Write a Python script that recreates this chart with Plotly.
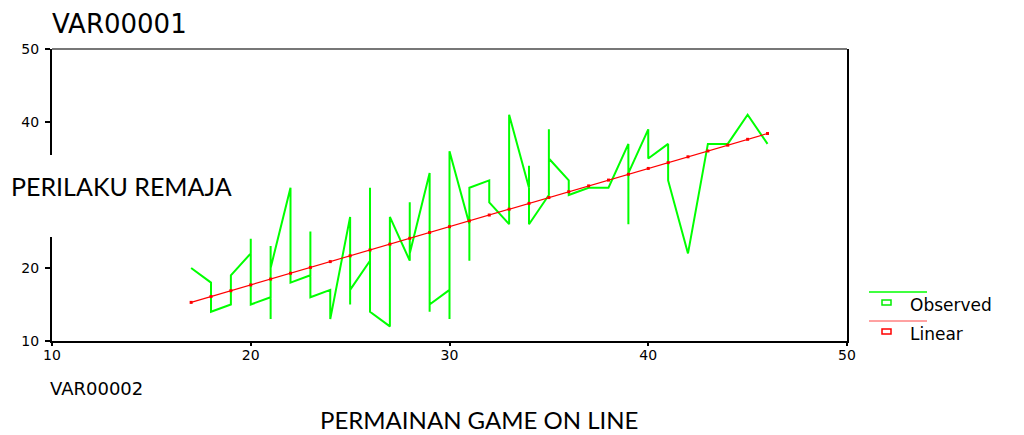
import numpy as np
import plotly.graph_objects as go

# Observed data (in plotting order, SPSS curve-fit style)
x_obs = [17, 18, 18, 19, 19, 20, 20, 20, 21, 21, 21, 21, 22, 22, 23, 23, 23, 24, 24,
         25, 25, 25, 26, 26, 26, 27, 27, 28, 28, 28, 29, 29, 29, 30, 30, 30, 31, 31, 31,
         32, 32, 33, 33, 34, 34, 34, 35, 35, 35, 36, 36, 37, 38, 39, 39, 39, 40, 40,
         41, 41, 42, 43, 44, 45, 46]
y_obs = [20, 18, 14, 15, 19, 22, 24, 15, 16, 23, 13, 20, 31, 18, 19, 25, 16, 17, 13,
         27, 15, 17, 21, 31, 14, 12, 27, 21, 29, 22, 33, 14, 15, 17, 13, 36, 26, 21, 31,
         32, 29, 26, 41, 31, 34, 26, 30, 39, 35, 32, 30, 31, 31, 37, 26, 33, 39, 35,
         37, 32, 22, 37, 37, 41, 37]

x_ticks = [10, 20, 30, 40, 50]
y_ticks = [10, 20, 40, 50]   # the 30 label is hidden behind the y title in the original

# Linear fit computed from the data
slope, intercept = np.polyfit(x_obs, y_obs, 1)
x_fit = sorted(set(x_obs))
y_fit = [intercept + slope * v for v in x_fit]

OFF = 8                      # page body margin
W, H = 1024 - OFF, 435 - OFF
L = 52 - OFF
T = 49 - OFF
R = W - (847 - OFF)
B = H - (341 - OFF)
pw, ph = W - L - R, H - T - B


def px(xp):
    """page x pixel -> paper x"""
    return (xp - OFF - L) / pw


def py(yp):
    """page y pixel -> paper y"""
    return (H - B - (yp - OFF)) / ph


fig = go.Figure()
fig.add_trace(go.Scatter(x=x_obs, y=y_obs, mode="lines",
                         line=dict(color="#00ff00", width=2), showlegend=False))
fig.add_trace(go.Scatter(x=x_fit, y=y_fit, mode="lines+markers",
                         line=dict(color="#ff0000", width=1.2),
                         marker=dict(color="#ff0000", size=3, symbol="square"),
                         showlegend=False))

axis_font = dict(family="DejaVu Sans", size=14, color="black")

fig.update_layout(
    width=W, height=H,
    margin=dict(l=L, r=R, t=T, b=B),
    paper_bgcolor="white", plot_bgcolor="white",
    xaxis=dict(range=[10, 50], tickvals=x_ticks, showgrid=False, zeroline=False,
               showline=True, linecolor="black", linewidth=2,
               ticks="outside", ticklen=3, tickwidth=2, tickcolor="black",
               ticklabelstandoff=-3, tickfont=axis_font),
    yaxis=dict(range=[10, 50], tickvals=y_ticks, showgrid=False, zeroline=False,
               showline=True, linecolor="black", linewidth=2, mirror=True,
               ticks="outside", ticklen=5, tickwidth=2, tickcolor="black",
               ticklabelstandoff=3, tickfont=axis_font),
)

shapes = []
# top border (gray)
shapes.append(dict(type="line", xref="paper", yref="paper", x0=0, x1=1, y0=1, y1=1,
                   line=dict(color="#777777", width=2), layer="above"))
# white box interrupting the y axis behind the y title
shapes.append(dict(type="rect", xref="paper", yref="paper",
                   x0=px(8), x1=px(56), y0=py(237), y1=py(155),
                   fillcolor="white", line=dict(width=0), layer="above"))
# legend samples
shapes.append(dict(type="line", xref="paper", yref="paper", x0=px(869), x1=px(927),
                   y0=py(292), y1=py(292), line=dict(color="#00ff00", width=1.5)))
shapes.append(dict(type="rect", xref="paper", yref="paper", x0=px(882), x1=px(891),
                   y0=py(305), y1=py(300), line=dict(color="#00ee00", width=1.5),
                   fillcolor="white"))
shapes.append(dict(type="line", xref="paper", yref="paper", x0=px(869), x1=px(927),
                   y0=py(321), y1=py(321), line=dict(color="#ff4444", width=1)))
shapes.append(dict(type="rect", xref="paper", yref="paper", x0=px(882), x1=px(891),
                   y0=py(334), y1=py(329), line=dict(color="#ff0000", width=1.5),
                   fillcolor="white"))
fig.update_layout(shapes=shapes)

ann = []
ann.append(dict(text="VAR00001", xref="paper", yref="paper", x=px(50), y=py(24),
                xanchor="left", yanchor="middle", showarrow=False,
                font=dict(family="DejaVu Sans", size=26, color="black")))
ann.append(dict(text="PERILAKU REMAJA", xref="paper", yref="paper", x=px(9), y=py(186),
                xanchor="left", yanchor="middle", showarrow=False,
                font=dict(family="Lato", size=25, color="black")))
ann.append(dict(text="VAR00002", xref="paper", yref="paper", x=px(48), y=py(388),
                xanchor="left", yanchor="middle", showarrow=False,
                font=dict(family="DejaVu Sans", size=18, color="black")))
ann.append(dict(text="PERMAINAN GAME ON LINE", xref="paper", yref="paper", x=px(479),
                y=py(419), xanchor="center", yanchor="middle", showarrow=False,
                borderpad=0, font=dict(family="Lato", size=24, color="black")))
ann.append(dict(text="Observed", xref="paper", yref="paper", x=px(908), y=py(305),
                xanchor="left", yanchor="middle", showarrow=False,
                font=dict(family="DejaVu Sans", size=17, color="black")))
ann.append(dict(text="Linear", xref="paper", yref="paper", x=px(908), y=py(334),
                xanchor="left", yanchor="middle", showarrow=False,
                font=dict(family="DejaVu Sans", size=17, color="black")))
fig.update_layout(annotations=ann)

fig.write_html("out.html")
